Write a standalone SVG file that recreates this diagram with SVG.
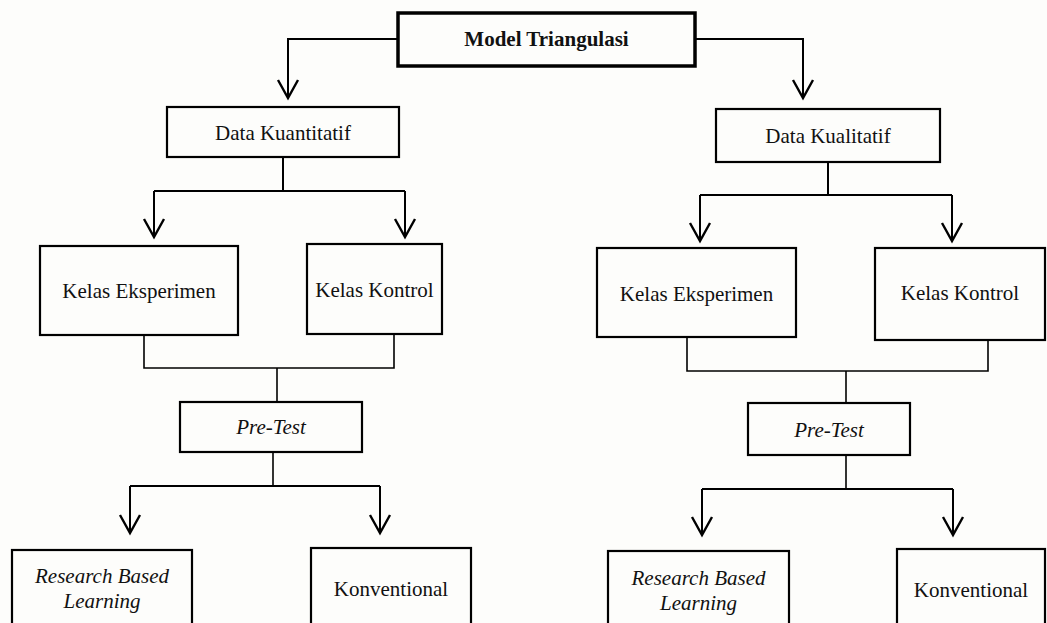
<svg xmlns="http://www.w3.org/2000/svg" width="1047" height="623" viewBox="0 0 1047 623">
<defs>
<style>
.box{fill:#fdfdfb;stroke:#000;stroke-width:2.2}
.top{fill:#fdfdfb;stroke:#000;stroke-width:3.5}
.t{font-family:"Liberation Serif","Times New Roman",serif;font-size:21px;fill:#111;text-anchor:middle}
.b{font-weight:bold}
.i{font-style:italic}
.c{fill:none;stroke:#000;stroke-width:2}
.m{fill:none;stroke:#000;stroke-width:1.6}
</style>
<marker id="ah" markerUnits="userSpaceOnUse" orient="auto" refX="0" refY="0" overflow="visible" markerWidth="20" markerHeight="20">
<path d="M-18,-10 L0,0 L-18,10" fill="none" stroke="#000" stroke-width="2.4"/>
</marker>
</defs>
<rect width="1047" height="623" fill="#fdfdfb"/>
<g id="connectors">
<path class="c" d="M398,39 H288 V98" marker-end="url(#ah)"/>
<path class="c" d="M695,39 H803 V98" marker-end="url(#ah)"/>
<path class="c" d="M283,157 V191"/>
<path class="c" d="M154,191 H405"/>
<path class="c" d="M154,191 V237" marker-end="url(#ah)"/>
<path class="c" d="M405,191 V237" marker-end="url(#ah)"/>
<path class="c" d="M828,162 V195"/>
<path class="c" d="M700,195 H952"/>
<path class="c" d="M700,195 V241" marker-end="url(#ah)"/>
<path class="c" d="M952,195 V241" marker-end="url(#ah)"/>
<path class="m" d="M144,335 V368 H394 V334"/>
<path class="m" d="M277,368 V402"/>
<path class="m" d="M687,337 V371 H988 V340"/>
<path class="m" d="M846,371 V403"/>
<path class="m" d="M273,452 V486"/>
<path class="c" d="M130,486 H380"/>
<path class="c" d="M130,486 V533" marker-end="url(#ah)"/>
<path class="c" d="M380,486 V533" marker-end="url(#ah)"/>
<path class="m" d="M846,455 V489"/>
<path class="c" d="M702,489 H953"/>
<path class="c" d="M702,489 V535" marker-end="url(#ah)"/>
<path class="c" d="M953,489 V535" marker-end="url(#ah)"/>
</g>
<g id="model-triangulasi">
<rect class="top" x="398" y="13" width="297" height="53"/>
<text class="t b" x="546.5" y="46">Model Triangulasi</text>
</g>
<g id="data-kuantitatif">
<rect class="box" x="167" y="107" width="232" height="50"/>
<text class="t" x="283" y="140">Data Kuantitatif</text>
</g>
<g id="data-kualitatif">
<rect class="box" x="716" y="109" width="224" height="53"/>
<text class="t" x="828" y="143">Data Kualitatif</text>
</g>
<g id="kelas-eksperimen-1">
<rect class="box" x="40" y="246" width="198" height="89"/>
<text class="t" x="139" y="298">Kelas Eksperimen</text>
</g>
<g id="kelas-kontrol-1">
<rect class="box" x="307" y="244" width="135" height="90"/>
<text class="t" x="374.5" y="297">Kelas Kontrol</text>
</g>
<g id="kelas-eksperimen-2">
<rect class="box" x="597" y="248" width="199" height="89"/>
<text class="t" x="696.5" y="301">Kelas Eksperimen</text>
</g>
<g id="kelas-kontrol-2">
<rect class="box" x="875" y="248" width="170" height="92"/>
<text class="t" x="960" y="300">Kelas Kontrol</text>
</g>
<g id="pre-test-1">
<rect class="box" x="180" y="402" width="182" height="50"/>
<text class="t i" x="271" y="434">Pre-Test</text>
</g>
<g id="pre-test-2">
<rect class="box" x="748" y="403" width="162" height="52"/>
<text class="t i" x="829" y="437">Pre-Test</text>
</g>
<g id="rbl-1">
<rect class="box" x="12" y="550" width="180" height="80"/>
<text class="t i" x="102" y="583">Research Based</text>
<text class="t i" x="102" y="608">Learning</text>
</g>
<g id="konventional-1">
<rect class="box" x="311" y="548" width="160" height="82"/>
<text class="t" x="391" y="596">Konventional</text>
</g>
<g id="rbl-2">
<rect class="box" x="608" y="551" width="181" height="80"/>
<text class="t i" x="698.5" y="585">Research Based</text>
<text class="t i" x="698.5" y="610">Learning</text>
</g>
<g id="konventional-2">
<rect class="box" x="897" y="549" width="148" height="82"/>
<text class="t" x="971" y="597">Konventional</text>
</g>
</svg>
